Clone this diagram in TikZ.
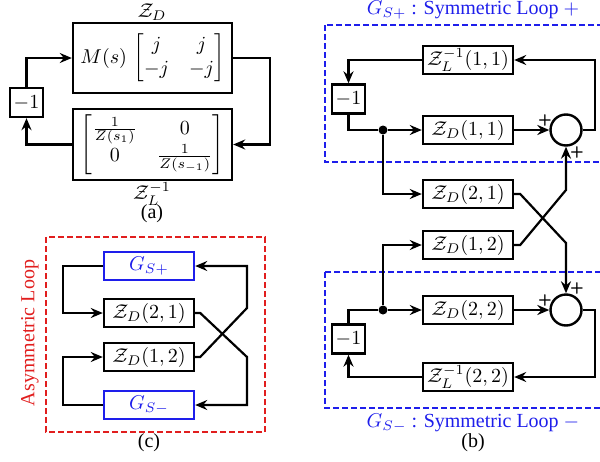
\documentclass[tikz,border=0pt]{standalone}
\usepackage{amsmath}
\usepackage[no-math]{fontspec}
\setmainfont{Liberation Serif}
\usetikzlibrary{arrows.meta}
\definecolor{loopblue}{RGB}{30,30,235}
\definecolor{loopred}{RGB}{225,30,30}
\tikzset{
  >={Stealth[length=6pt,width=5pt,inset=2pt]},
  blk/.style={draw,line width=1.2pt,inner sep=1pt,minimum width=45pt,minimum height=14pt},
  neg/.style={draw,line width=1.2pt,inner sep=1pt,minimum width=16.5pt,minimum height=14.5pt},
  sumnode/.style={draw,circle,line width=1.2pt,minimum size=15.5pt,inner sep=0pt},
  dotnode/.style={circle,fill,inner sep=0pt,minimum size=4.5pt},
  sgn/.style={font=\sffamily\bfseries\footnotesize,inner sep=0pt},
  lab/.style={inner sep=0.5pt},
  wire/.style={line width=1.1pt},
  frameb/.style={draw=loopblue,line width=0.8pt,dash pattern=on 3pt off 1.5pt},
  framer/.style={draw=loopred,line width=0.8pt,dash pattern=on 3pt off 1.5pt}
}
\begin{document}
\begin{tikzpicture}[x=0.5pt,y=-0.5pt]
    \useasboundingbox (0,0) rectangle (600,461);
    % (a)
    \node[blk,minimum width=79.5pt,minimum height=35pt] (ZD) at (152.5,58) {$M(s)\,\begin{bmatrix} j & j\\ -j & -j\end{bmatrix}$};
    \node[blk,minimum width=79.5pt,minimum height=35.5pt] (ZL) at (152.5,144.5) {$\begin{bmatrix} \frac{1}{Z(s_1)} & 0\\ 0 & \frac{1}{Z(s_{-1})}\end{bmatrix}$};
    \node[neg] (ma) at (26.5,102.5) {$-1$};
    \node[lab] (ZDlab) at (152,12) {$\mathcal{Z}_D$};
    \node[lab] (ZLlab) at (152,194) {$\mathcal{Z}_L^{-1}$};
    \node[lab] (capa) at (152,214) {(a)};
    \draw[wire,->] (ma.north) |- (ZD.west);
    \draw[wire,->] (ZD.east) -- ++(37,0) |- (ZL.east);
    \draw[wire,->] (ZL.west) -| (ma.south);
    % (b)
    \draw[frameb] (325,25) rectangle (606,162);
    \draw[frameb] (325,272) rectangle (606,408);
    \node[lab,text=loopblue] (tp) at (473,10) {$G_{S+}$ : Symmetric Loop $+$};
    \node[lab,text=loopblue] (tm) at (473,423) {$G_{S-}$ : Symmetric Loop $-$};
    \node[lab] (capb) at (473,443) {(b)};
    \node[blk] (ZL11) at (468,60) {$\mathcal{Z}_L^{-1}(1,1)$};
    \node[blk] (ZD11) at (468,130) {$\mathcal{Z}_D(1,1)$};
    \node[blk] (ZD21) at (468,194) {$\mathcal{Z}_D(2,1)$};
    \node[blk] (ZD12) at (468,245) {$\mathcal{Z}_D(1,2)$};
    \node[blk] (ZD22) at (468,310) {$\mathcal{Z}_D(2,2)$};
    \node[blk] (ZL22) at (468,377) {$\mathcal{Z}_L^{-1}(2,2)$};
    \node[neg] (mp) at (348.5,99) {$-1$};
    \node[neg] (mm) at (348.5,339) {$-1$};
    \node[sumnode] (sp) at (566,130) {};
    \node[sumnode] (sm) at (566,310) {};
    \node[dotnode] (dp) at (383,130) {};
    \node[dotnode] (dm) at (383,310) {};
    \node[sgn] (sp1) at (545,120) {+};
    \node[sgn] (sp2) at (577,152) {+};
    \node[sgn] (sm1) at (545,300) {+};
    \node[sgn] (sm2) at (577,288) {+};
    \coordinate (k1) at (566,190);
    \coordinate (k2) at (566,243);
    \draw[wire,->] (sp.east) -- ++(12,0) |- (ZL11.east);
    \draw[wire,->] (ZL11.west) -| (mp.north);
    \draw[wire] (mp.south) |- (dp);
    \draw[wire,->] (dp) -- (ZD11.west);
    \draw[wire,->] (ZD11.east) -- (sp.west);
    \draw[wire,->] (dp) |- (ZD21.west);
    \draw[wire,->] (ZD21.east) -- ++(6,0) -- (k2) -- (sm.north);
    \draw[wire,->] (ZD12.east) -- ++(6,0) -- (k1) -- (sp.south);
    \draw[wire,->] (dm) |- (ZD12.west);
    \draw[wire] (mm.north) |- (dm);
    \draw[wire,->] (dm) -- (ZD22.west);
    \draw[wire,->] (ZD22.east) -- (sm.west);
    \draw[wire,->] (sm.east) -- ++(12,0) |- (ZL22.east);
    \draw[wire,->] (ZL22.west) -| (mm.south);
    % (c)
    \draw[framer] (46,237) rectangle (265,432);
    \node[lab,text=loopred,rotate=90] (asym) at (30,333) {Asymmetric Loop};
    \node[lab] (capc) at (149,443) {(c)};
    \node[blk,draw=loopblue,text=loopblue] (GSp) at (149,266) {$G_{S+}$};
    \node[blk] (Zc21) at (149,313) {$\mathcal{Z}_D(2,1)$};
    \node[blk] (Zc12) at (149,357) {$\mathcal{Z}_D(1,2)$};
    \node[blk,draw=loopblue,text=loopblue] (GSm) at (149,405) {$G_{S-}$};
    \coordinate (c1) at (247,308);
    \coordinate (c2) at (247,357);
    \draw[wire,->] (GSp.west) -- ++(-40,0) |- (Zc21.west);
    \draw[wire,->] (GSm.west) -- ++(-40,0) |- (Zc12.west);
    \draw[wire,->] (Zc21.east) -- ++(5,0) -- (c2) |- (GSm.east);
    \draw[wire,->] (Zc12.east) -- ++(5,0) -- (c1) |- (GSp.east);
\end{tikzpicture}
\end{document}
